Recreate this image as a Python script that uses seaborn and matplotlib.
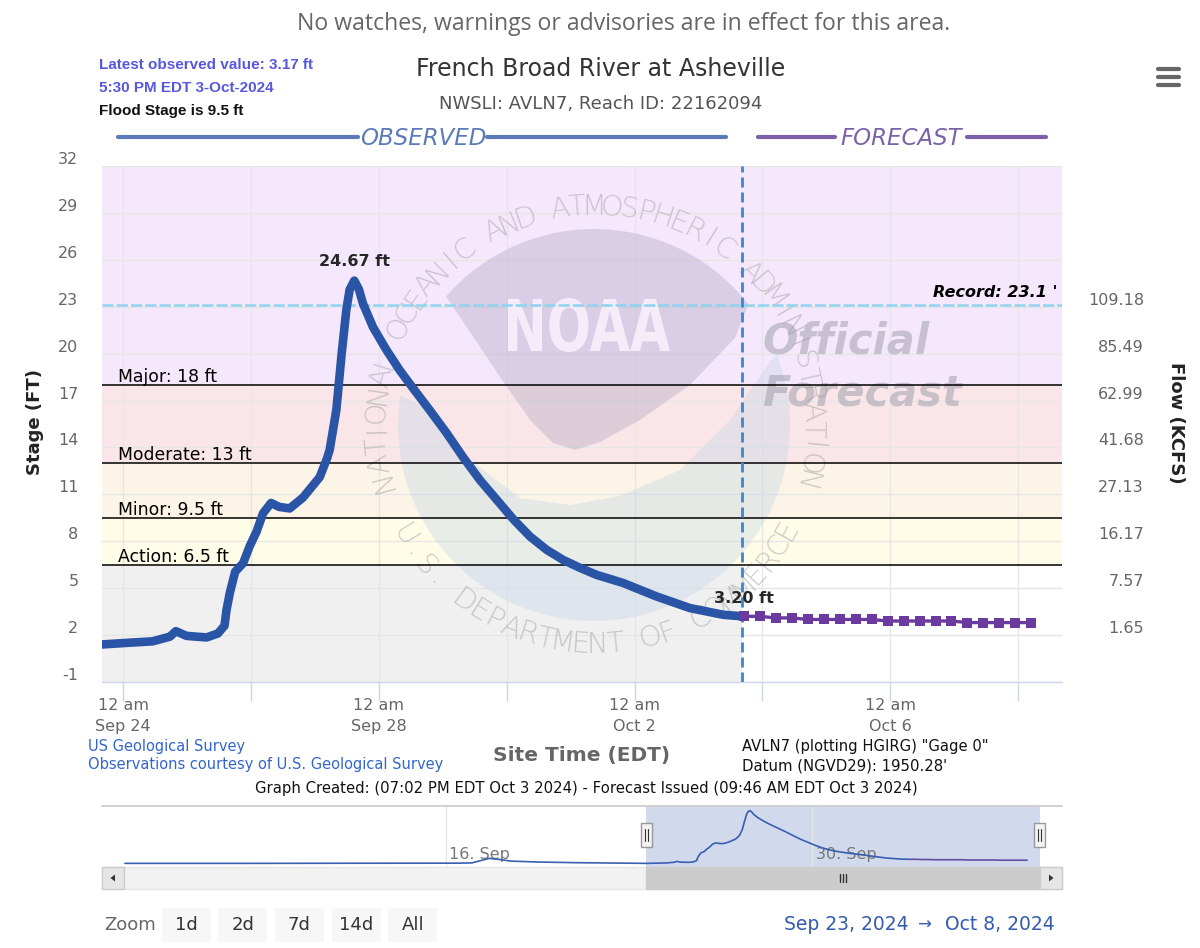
import numpy as np
import pandas as pd
import matplotlib
matplotlib.use("Agg")
import matplotlib.pyplot as plt
import matplotlib.dates as mdates
from matplotlib.patches import Rectangle, Ellipse, Polygon, PathPatch
from matplotlib.lines import Line2D
from matplotlib.transforms import ScaledTranslation, Affine2D
from matplotlib.textpath import TextPath
from matplotlib.font_manager import FontProperties
import seaborn as sns

# ---------------- data ----------------
obs_time = ["2024-09-23 16:00", "2024-09-24 01:00", "2024-09-24 11:00", "2024-09-24 17:30",
            "2024-09-24 19:45", "2024-09-24 23:45", "2024-09-25 07:15", "2024-09-25 11:30",
            "2024-09-25 14:00", "2024-09-25 14:45", "2024-09-25 16:00", "2024-09-25 18:00",
            "2024-09-25 21:00", "2024-09-25 23:30", "2024-09-26 02:00", "2024-09-26 04:30",
            "2024-09-26 07:30", "2024-09-26 10:30", "2024-09-26 14:30", "2024-09-26 19:30",
            "2024-09-27 01:45", "2024-09-27 04:30", "2024-09-27 05:30", "2024-09-27 08:00",
            "2024-09-27 10:00", "2024-09-27 11:45", "2024-09-27 13:00", "2024-09-27 14:45",
            "2024-09-27 16:30", "2024-09-27 18:00", "2024-09-27 21:45", "2024-09-28 02:45",
            "2024-09-28 07:45", "2024-09-28 12:45", "2024-09-28 19:00", "2024-09-29 01:30",
            "2024-09-29 07:30", "2024-09-29 14:00", "2024-09-29 20:15", "2024-09-30 02:30",
            "2024-09-30 08:45", "2024-09-30 15:00", "2024-09-30 21:15", "2024-10-01 03:30",
            "2024-10-01 09:45", "2024-10-01 19:45", "2024-10-02 08:15", "2024-10-02 20:45",
            "2024-10-03 09:15", "2024-10-03 16:30"]
obs_stage = [1.4, 1.5, 1.6, 1.9, 2.25, 1.95, 1.85, 2.1, 2.6, 3.6,
             4.7, 6.05, 6.6, 7.7, 8.6, 9.8, 10.45, 10.2, 10.1, 10.8,
             12.1, 13.3, 13.85, 16.4, 20.0, 22.8, 24.1, 24.67, 24.1, 23.2,
             21.7, 20.25, 18.95, 17.8, 16.4, 14.9, 13.4, 11.9, 10.65, 9.4,
             8.3, 7.45, 6.8, 6.3, 5.85, 5.33, 4.47, 3.73, 3.3, 3.2]

fcst_time = ["2024-10-03 17:00", "2024-10-03 23:00", "2024-10-04 05:00", "2024-10-04 11:00",
             "2024-10-04 17:00", "2024-10-04 23:00", "2024-10-05 05:00", "2024-10-05 11:00",
             "2024-10-05 17:00", "2024-10-05 23:00", "2024-10-06 05:00", "2024-10-06 11:00",
             "2024-10-06 17:00", "2024-10-06 23:00", "2024-10-07 05:00", "2024-10-07 11:00",
             "2024-10-07 17:00", "2024-10-07 23:00", "2024-10-08 05:00"]
fcst_stage = [3.2, 3.2, 3.1, 3.1, 3.0, 3.0, 3.0, 3.0, 3.0, 2.9,
              2.9, 2.9, 2.9, 2.9, 2.8, 2.8, 2.8, 2.8, 2.8]

# earlier history shown only in the navigator
hist_time = ["2024-09-03 18:00", "2024-09-08 00:00", "2024-09-12 00:00", "2024-09-16 12:00",
             "2024-09-17 00:00", "2024-09-17 08:00", "2024-09-17 16:00", "2024-09-18 00:00",
             "2024-09-18 12:00", "2024-09-19 12:00", "2024-09-21 00:00", "2024-09-23 06:00"]
hist_stage = [1.4, 1.4, 1.45, 1.5, 1.6, 2.6, 3.6, 3.2, 2.4, 2.0, 1.7, 1.45]

flood_names = ["Action", "Minor", "Moderate", "Major"]
flood_levels = [6.5, 9.5, 13, 18]
band_edges = [6.5, 9.5, 13, 18, 32]
band_colors = ["#fffce8", "#fcf4e6", "#fae6e8", "#f6e8fc"]
record_stage = 23.1
peak_value = 24.67
last_value = 3.20

stage_ticks = list(range(-1, 33, 3))
flow_ticks = [2, 5, 8, 11, 14, 17, 20, 23]
flow_labels = ["1.65", "7.57", "16.17", "27.13", "41.68", "62.99", "85.49", "109.18"]
x_ticks = ["2024-09-24", "2024-09-26", "2024-09-28", "2024-09-30",
           "2024-10-02", "2024-10-04", "2024-10-06", "2024-10-08"]
x_tick_labels = ["12 am\nSep 24", "", "12 am\nSep 28", "", "12 am\nOct 2", "", "12 am\nOct 6", ""]
view_start, view_end = "2024-09-23 16:00", "2024-10-08 16:30"
now_time = "2024-10-03 16:30"
nav_start, nav_end = "2024-09-02 21:00", "2024-10-09 13:00"
nav_ticks = ["2024-09-16", "2024-09-30"]
nav_tick_labels = ["16. Sep", "30. Sep"]
zoom_buttons = ["1d", "2d", "7d", "14d", "All"]

# ---------------- setup ----------------
sns.set_theme(style="white")
plt.rcParams["font.family"] = ["DejaVu Sans"]
W, H = 1200, 948
fig = plt.figure(figsize=(W / 100, H / 100), dpi=100)
fig.patch.set_facecolor("white")


def FX(px):
    return px / W


def FY(py):
    return 1 - py / H


def P(x, y):
    return (FX(x), FY(y))


tv0, tv1 = pd.Timestamp(view_start), pd.Timestamp(view_end)
tnow = pd.Timestamp(now_time)

ax = fig.add_axes([FX(102), FY(682), 960 / W, 516 / H])
ax.set_facecolor("white")

# flood bands
for lo, hi, c in zip(band_edges[:-1], band_edges[1:], band_colors):
    ax.axhspan(lo, hi, color=c, lw=0, zorder=0)
ax.fill_between([tv0, tnow], -1, 6.5, color="#f0f0f0", lw=0, zorder=0)

# ---------------- watermark ----------------
wm_cx, wm_cy, wm_r = 594, 425, 196
disc = Ellipse(P(wm_cx, wm_cy), 2 * wm_r / W, 2 * wm_r / H, transform=fig.transFigure)
blue_pts = [(380, 385), (420, 405), (470, 460), (520, 498), (570, 505), (620, 496),
            (680, 470), (730, 420), (770, 362), (800, 330), (820, 330), (820, 640), (370, 640)]
dark_pts = [(420, 200), (445, 295), (470, 332), (500, 377), (530, 420), (553, 443),
            (575, 450), (600, 442), (640, 420), (690, 385), (735, 338), (752, 295), (780, 200)]
for pts, col in [(blue_pts, (190 / 255, 210 / 255, 232 / 255)), (dark_pts, (166 / 255, 158 / 255, 189 / 255))]:
    poly = Polygon([P(x, y) for x, y in pts], closed=True, transform=fig.transFigure,
                   fc=col, alpha=0.34, lw=0, zorder=1)
    ax.add_patch(poly)
    poly.set_clip_path(disc)

tp = TextPath((0, 0), "NOAA", size=100, prop=FontProperties(family="DejaVu Sans", weight="bold"))
bb = tp.get_extents()
tr = (Affine2D().translate(-bb.x0, -bb.y0).scale((670 - 508) / bb.width, (352 - 298) / bb.height)
      .translate(508, H - 352).scale(1 / W, 1 / H) + fig.transFigure)
ax.add_patch(PathPatch(tp, transform=tr, fc="#f8f0fc", ec="none", alpha=0.9, zorder=1.1))


def ring_text(s, a0, a1, top=True, r=218):
    n = len(s)
    for i, ch in enumerate(s):
        if ch == " ":
            continue
        th = np.deg2rad(a0 + (a1 - a0) * i / (n - 1))
        x = wm_cx + r * np.cos(th)
        y = wm_cy - r * np.sin(th)
        rot = np.rad2deg(th) - 90 if top else np.rad2deg(th) + 90
        ax.text(FX(x), FY(y), ch, transform=fig.transFigure, rotation=rot, rotation_mode="anchor",
                ha="center", va="center", fontsize=21, weight="light", color="#a0a0a0",
                alpha=0.5, zorder=1.2)


ring_text("NATIONAL OCEANIC AND ATMOSPHERIC ADMINISTRATION", 194.7, -14.7, top=True)
ring_text("U.S. DEPARTMENT OF COMMERCE", 210.4, 331.5, top=False, r=220)
for txt, yb in [("Official", 353), ("Forecast", 406)]:
    ax.text(FX(762), FY(yb), txt, transform=fig.transFigure, fontsize=30, weight="bold",
            style="italic", color="#9a9aa8", alpha=0.5, ha="left", va="baseline", zorder=1.2)

# ---------------- lines ----------------
for name, lv in zip(flood_names, flood_levels):
    ax.axhline(lv, color="black", lw=1.1, zorder=2)
    ax.text(16 / 960, lv + 0.19, f"{name}: {lv:g} ft", transform=ax.get_yaxis_transform(),
            ha="left", va="baseline", fontsize=12.4, color="black", zorder=3)
ax.axhline(record_stage, color="#8fd3f0", lw=1.8, dashes=(4.5, 1.2), zorder=2)
ax.text(1 - 5 / 960, record_stage + 0.52, f"Record: {record_stage:g} '", transform=ax.get_yaxis_transform(),
        ha="right", va="baseline", fontsize=11.5, weight="bold", style="italic", color="black", zorder=3)
ax.axvline(tnow, color="#3b87c9", lw=2.0, dashes=(3.6, 1.8), zorder=4)

obs_df = pd.DataFrame({"time": pd.to_datetime(obs_time), "stage": obs_stage})
fc_df = pd.DataFrame({"time": pd.to_datetime(fcst_time), "stage": fcst_stage})
sns.lineplot(data=obs_df, x="time", y="stage", ax=ax, color="#2a55a6", lw=6.2, sort=False,
             estimator=None, solid_capstyle="round", solid_joinstyle="round", zorder=5, legend=False)
sns.lineplot(data=fc_df, x="time", y="stage", ax=ax, color="#6b3a9e", lw=2.4, marker="s",
             markersize=7, markeredgewidth=0, sort=False, estimator=None, zorder=6, legend=False)

ipk = int(np.argmax(obs_stage))
ax.annotate(f"{peak_value:.2f} ft", xy=(mdates.date2num(obs_df["time"][ipk]), obs_stage[ipk]), xytext=(0, 14),
            textcoords="offset points", ha="center", va="center", fontsize=11.5, weight="bold", zorder=7)
ax.annotate(f"{last_value:.2f} ft", xy=(mdates.date2num(fc_df["time"][0]), fcst_stage[0]), xytext=(0, 13),
            textcoords="offset points", ha="center", va="center", fontsize=11.5, weight="bold", zorder=7)

# axes formatting
ax.set_xlim(tv0, tv1)
ax.set_ylim(-1, 32)
ax.set_xlabel("")
ax.set_ylabel("")
ax.set_xticks(pd.to_datetime(x_ticks))
ax.set_xticklabels(x_tick_labels)
for lab in ax.get_xticklabels():
    lab.set_linespacing(1.55)
ax.set_yticks(stage_ticks)
ax.set_yticklabels([str(v) for v in stage_ticks])
ax.set_axisbelow(True)
ax.grid(True, color="#e6e6e6", lw=1)
for s in ["top", "right", "left"]:
    ax.spines[s].set_visible(False)
ax.spines["bottom"].set_color("#ccd6eb")
ax.spines["bottom"].set_linewidth(1)
ax.tick_params(axis="x", which="major", bottom=True, length=14, width=1, color="#ccd6eb",
               labelsize=11.5, labelcolor="#666666", pad=-2.6)
ax.tick_params(axis="y", left=False, length=0, labelsize=11.5, labelcolor="#666666", pad=17)
off = ScaledTranslation(0, 0.08, fig.dpi_scale_trans)
for lab in ax.get_yticklabels():
    lab.set_transform(lab.get_transform() + off)

ax2 = ax.twinx()
ax2.set_ylim(-1, 32)
ax2.set_yticks(flow_ticks)
ax2.set_yticklabels(flow_labels)
ax2.grid(False)
for s in ax2.spines.values():
    s.set_visible(False)
ax2.tick_params(axis="y", right=True, length=0, labelsize=11.5, labelcolor="#666666", pad=59)
for lab in ax2.get_yticklabels():
    lab.set_horizontalalignment("right")
    lab.set_transform(lab.get_transform() + off)

# ---------------- figure texts ----------------
fig.text(FX(624), FY(24), "No watches, warnings or advisories are in effect for this area.",
         ha="center", va="center", fontsize=16.6, color="#666666", family="Open Sans")
fig.text(FX(98.7), FY(65), "Latest observed value: 3.17 ft", ha="left", va="center", fontsize=11,
         weight="bold", color="#5757e0", family="Liberation Sans")
fig.text(FX(98.7), FY(88), "5:30 PM EDT 3-Oct-2024", ha="left", va="center", fontsize=11,
         weight="bold", color="#5757e0", family="Liberation Sans")
fig.text(FX(98.7), FY(111), "Flood Stage is 9.5 ft", ha="left", va="center", fontsize=11,
         weight="bold", color="#111111", family="Liberation Sans")
fig.text(FX(601), FY(69), "French Broad River at Asheville", ha="center", va="center",
         fontsize=17, color="#333333")
fig.text(FX(601), FY(104), "NWSLI: AVLN7, Reach ID: 22162094", ha="center", va="center",
         fontsize=13, color="#555555")

obs_col, fc_col = "#5a7ab8", "#7b62a8"
fig.add_artist(Line2D([FX(118), FX(358)], [FY(136.7)] * 2, lw=3, color=obs_col, transform=fig.transFigure))
fig.add_artist(Line2D([FX(487), FX(726)], [FY(136.7)] * 2, lw=3, color=obs_col, transform=fig.transFigure))
fig.text(FX(423.4), FY(145), "OBSERVED", ha="center", va="baseline", fontsize=16.5,
         style="italic", color=obs_col)
fig.add_artist(Line2D([FX(758), FX(835)], [FY(136.7)] * 2, lw=3, color=fc_col, transform=fig.transFigure))
fig.add_artist(Line2D([FX(967), FX(1046)], [FY(136.7)] * 2, lw=3, color=fc_col, transform=fig.transFigure))
fig.text(FX(901), FY(145), "FORECAST", ha="center", va="baseline", fontsize=16.5,
         style="italic", color=fc_col)

for yy in [69, 77, 85]:
    fig.add_artist(Line2D([FX(1158), FX(1179)], [FY(yy)] * 2, lw=3, color="#666666",
                          solid_capstyle="round", transform=fig.transFigure))

fig.text(FX(35), FY(422), "Stage (FT)", rotation=90, ha="center", va="center", fontsize=13,
         weight="bold", color="#222222")
fig.text(FX(1176), FY(423), "Flow (KCFS)", rotation=270, ha="center", va="center", fontsize=13,
         weight="bold", color="#222222")
fig.text(FX(582), FY(756), "Site Time (EDT)", ha="center", va="center", fontsize=14.5,
         weight="bold", color="#666666")
fig.text(FX(88), FY(747), "US Geological Survey", ha="left", va="center", fontsize=10.5, color="#3366cc")
fig.text(FX(88), FY(765), "Observations courtesy of U.S. Geological Survey", ha="left", va="center",
         fontsize=10.5, color="#3366cc")
fig.text(FX(742.4), FY(746), 'AVLN7 (plotting HGIRG) "Gage 0"', ha="left", va="center",
         fontsize=10.6, color="#111111")
fig.text(FX(742.4), FY(766), "Datum (NGVD29): 1950.28'", ha="left", va="center",
         fontsize=10.7, color="#111111")
fig.text(FX(586.5), FY(789), "Graph Created: (07:02 PM EDT Oct 3 2024) - Forecast Issued (09:46 AM EDT Oct 3 2024)",
         ha="center", va="center", fontsize=10.7, color="#111111")

# ---------------- navigator ----------------
nav = fig.add_axes([FX(102), FY(867), 960 / W, 61 / H])
nav.set_facecolor("white")
nav_df = pd.DataFrame({"time": pd.to_datetime(hist_time + obs_time), "stage": hist_stage + obs_stage})
nav.axvspan(tv0, tv1, color="#6685c2", alpha=0.3, lw=0, zorder=0)
sns.lineplot(data=nav_df, x="time", y="stage", ax=nav, color="#3a5fb0", lw=1.2, sort=False,
             estimator=None, zorder=2, legend=False)
sns.lineplot(data=fc_df, x="time", y="stage", ax=nav, color="#6a4da0", lw=1.2, sort=False,
             estimator=None, zorder=2, legend=False)
nav.set_xlim(pd.Timestamp(nav_start), pd.Timestamp(nav_end))
nav.set_ylim(-0.2, 26.7)
nav.set_xticks(pd.to_datetime(nav_ticks))
nav.set_xticklabels([])
nav.set_yticks([])
nav.set_xlabel("")
nav.set_ylabel("")
nav.grid(True, axis="x", color="#e6e6e6", lw=1)
nav.set_axisbelow(True)
nav.tick_params(axis="x", length=0)
for s in ["bottom", "left", "right"]:
    nav.spines[s].set_visible(False)
nav.spines["top"].set_color("#cccccc")
for t, lab in zip(pd.to_datetime(nav_ticks), nav_tick_labels):
    nav.annotate(lab, xy=(mdates.date2num(t), 0.2), xycoords=nav.get_xaxis_transform(), xytext=(2.5, 0),
                 textcoords="offset points", ha="left", va="center", fontsize=11.5,
                 color="#777777", zorder=1)


def nav_px(t):
    return nav.transData.transform((mdates.date2num(t), 0))[0] * W / fig.bbox.width


hx0, hx1 = nav_px(tv0), nav_px(tv1)

# scrollbar
fig.add_artist(Rectangle(P(102, 889), 960 / W, 22 / H, transform=fig.transFigure, fc="#f2f2f2", ec="#e6e6e6", lw=1))
fig.add_artist(Rectangle(P(hx0, 889), (hx1 - hx0) / W, 22 / H, transform=fig.transFigure, fc="#cccccc", ec="#cccccc", lw=1))
fig.add_artist(Rectangle(P(102, 889), 22 / W, 22 / H, transform=fig.transFigure, fc="#e6e6e6", ec="#cccccc", lw=1))
fig.add_artist(Rectangle(P(1040, 889), 22 / W, 22 / H, transform=fig.transFigure, fc="#e6e6e6", ec="#cccccc", lw=1))
fig.add_artist(Polygon([P(110.5, 878), P(115, 874.5), P(115, 881.5)], transform=fig.transFigure, fc="#333333", lw=0))
fig.add_artist(Polygon([P(1053.5, 878), P(1049, 874.5), P(1049, 881.5)], transform=fig.transFigure, fc="#333333", lw=0))
gc = (hx0 + hx1) / 2
for dx in [-3, 0, 3]:
    fig.add_artist(Line2D([FX(gc + dx)] * 2, [FY(874), FY(882)], lw=1, color="#333333", transform=fig.transFigure))
# handles
for hx in [hx0, hx1]:
    fig.add_artist(Rectangle(P(hx - 5.5, 847), 11 / W, 24 / H, transform=fig.transFigure,
                             fc="#f2f2f2", ec="#999999", lw=1))
    for dx in [-1.5, 1.5]:
        fig.add_artist(Line2D([FX(hx + dx)] * 2, [FY(829), FY(841)], lw=0.8, color="#333333",
                              transform=fig.transFigure))

# range selector
fig.text(FX(104), FY(925), "Zoom", ha="left", va="center", fontsize=13, color="#666666")
for i, lab in enumerate(zoom_buttons):
    cx = 186 + 56.7 * i
    fig.add_artist(Rectangle(P(cx - 24.5, 942), 49 / W, 34 / H, transform=fig.transFigure,
                             fc="#f7f7f7", ec="none"))
    fig.text(FX(cx), FY(925), lab, ha="center", va="center", fontsize=13, color="#333333")
fig.text(FX(784), FY(925), "Sep 23, 2024", ha="left", va="center", fontsize=13.5, color="#335cad")
fig.text(FX(924), FY(925), "\u2192", ha="center", va="center", fontsize=12, color="#335cad")
fig.text(FX(1055), FY(925), "Oct 8, 2024", ha="right", va="center", fontsize=13.5, color="#335cad")

fig.savefig("out.png", dpi=100)
